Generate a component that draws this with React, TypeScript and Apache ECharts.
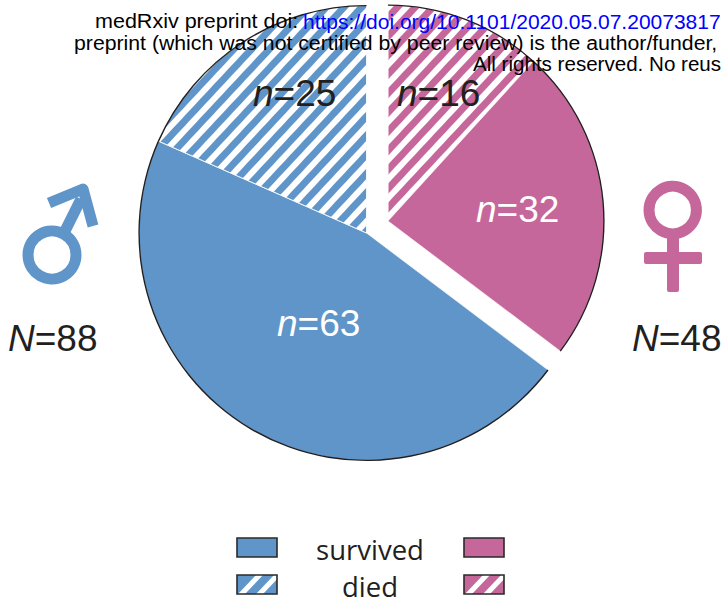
import React, { useEffect, useRef } from "react";
import * as echarts from "echarts";

const sliceNames = ["female died", "female survived", "male survived", "male died"];
const sliceValues = [16, 32, 63, 25];
const sliceSex = ["f", "f", "m", "m"];
const sliceHatched = [true, false, false, true];
const maleTotal = 88;
const femaleTotal = 48;
const legendLabels = ["survived", "died"];
const preprintLines = [
  "preprint (which was not certified by peer review) is the author/funder,",
  "All rights reserved. No reus",
];

const BLUE = "#5f95c9";
const PINK = "#c6679b";
const INK = "#231f20";
const LABEL_FONT = "'Liberation Sans', Arial, sans-serif";

const hatch = {
  symbol: "rect",
  symbolSize: 1,
  color: "#ffffff",
  dashArrayX: [1, 0],
  dashArrayY: [6, 7],
  rotation: (-47 * Math.PI) / 180,
};

function pieData(sex: string, ring: boolean) {
  return sliceValues.map((value, i) => {
    const own = sliceSex[i] === sex;
    const color = sex === "m" ? BLUE : PINK;
    return {
      name: sliceNames[i],
      value,
      itemStyle: !own
        ? { color: "transparent", borderWidth: 0 }
        : ring
        ? { color: INK, borderWidth: 0 }
        : {
            color,
            borderColor: "#ffffff",
            borderWidth: 0.6,
            ...(sliceHatched[i] ? { decal: hatch } : {}),
          },
    };
  });
}

function pieSeries(sex: string, center: number[], r: number) {
  const base = {
    type: "pie",
    center,
    startAngle: 90,
    clockwise: true,
    silent: true,
    label: { show: false },
    labelLine: { show: false },
    emphasis: { disabled: true },
  };
  return [
    { ...base, radius: [0, r], data: pieData(sex, false), z: 2 },
    { ...base, radius: [r - 0.8, r + 0.6], data: pieData(sex, true), z: 3 },
  ];
}

function valueLabel(letter: string, value: number, x: number, y: number, fill: string) {
  return {
    type: "text",
    z: 20,
    x,
    y,
    style: {
      text: `{i|${letter}}{t|=${value}}`,
      fill,
      align: "left",
      verticalAlign: "top",
      rich: {
        i: { font: `italic 37px ${LABEL_FONT}`, fill },
        t: { font: `37px ${LABEL_FONT}`, fill },
      },
    },
  };
}

function swatch(x: number, y: number, color: string, striped: boolean) {
  const w = 40;
  const h = 19;
  const parts: any[] = [
    { type: "rect", z: 20, shape: { x, y, width: w, height: h }, style: { fill: color } },
  ];
  if (striped) {
    [1, 19].forEach((off) => {
      parts.push({
        type: "polygon",
        z: 21,
        shape: {
          points: [
            [x + off, y + h],
            [x + off + 7, y + h],
            [x + off + 7 + h * 0.95, y],
            [x + off + h * 0.95, y],
          ],
        },
        style: { fill: "#ffffff" },
      });
    });
  }
  parts.push({
    type: "rect",
    z: 22,
    shape: { x, y, width: w, height: h },
    style: { fill: "none", stroke: "#2b2a2b", lineWidth: 1.6 },
  });
  return parts;
}

export default function App() {
  const ref = useRef<HTMLDivElement>(null);
  useEffect(() => {
    const chart = echarts.init(ref.current!, undefined, { renderer: "svg" });
    const banner = { font: `21px ${LABEL_FONT}`, verticalAlign: "top" };
    const legendFont = "27.5px 'Open Sans', sans-serif";
    chart.setOption({
      animation: false,
      backgroundColor: "#ffffff",
      series: [...pieSeries("m", [366.5, 233], 227.5), ...pieSeries("f", [388, 221], 216)],
      graphic: [
        valueLabel("n", sliceValues[3], 253, 75, INK),
        valueLabel("n", sliceValues[0], 397, 75, INK),
        valueLabel("n", sliceValues[1], 476, 191, "#ffffff"),
        valueLabel("n", sliceValues[2], 277, 305, "#ffffff"),
        valueLabel("N", maleTotal, 8, 320, INK),
        valueLabel("N", femaleTotal, 632, 320, INK),
        // male symbol
        { type: "circle", z: 20, shape: { cx: 52, cy: 255, r: 24 }, style: { fill: "none", stroke: BLUE, lineWidth: 11 } },
        { type: "line", z: 20, shape: { x1: 65, y1: 231, x2: 81, y2: 199 }, style: { stroke: BLUE, lineWidth: 11 } },
        {
          type: "polyline",
          z: 20,
          shape: { points: [[49, 203], [83, 189], [93, 226]] },
          style: { fill: "none", stroke: BLUE, lineWidth: 11, lineJoin: "round", lineCap: "butt" },
        },
        // female symbol
        { type: "circle", z: 20, shape: { cx: 672.7, cy: 210, r: 23.7 }, style: { fill: "none", stroke: PINK, lineWidth: 11 } },
        { type: "rect", z: 20, shape: { x: 667, y: 237, width: 12, height: 55, r: 2 }, style: { fill: PINK } },
        { type: "rect", z: 20, shape: { x: 644, y: 252, width: 58, height: 12, r: 2 }, style: { fill: PINK } },
        // legend
        ...swatch(237, 538, BLUE, false),
        ...swatch(237, 575, BLUE, true),
        ...swatch(464, 538, PINK, false),
        ...swatch(464, 575, PINK, true),
        {
          type: "text",
          z: 20,
          x: 370,
          y: 549,
          style: { text: legendLabels[0], font: legendFont, fill: INK, align: "center", verticalAlign: "middle" },
        },
        {
          type: "text",
          z: 20,
          x: 370,
          y: 586,
          style: { text: legendLabels[1], font: legendFont, fill: INK, align: "center", verticalAlign: "middle" },
        },
        // preprint banner
        { type: "text", z: 30, x: 95, y: 11, scaleX: 1.025, style: { ...banner, text: "medRxiv preprint doi: ", fill: "#000000" } },
        { type: "text", z: 30, x: 303, y: 11, style: { ...banner, text: "https://doi.org/10.1101/2020.05.07.20073817", fill: "#0000ff" } },
        { type: "text", z: 30, x: 74, y: 32, scaleX: 1.012, style: { ...banner, text: preprintLines[0], fill: "#000000" } },
        { type: "text", z: 30, x: 473, y: 53, scaleX: 0.98, style: { ...banner, text: preprintLines[1], fill: "#000000" } },
      ],
    });
    return () => chart.dispose();
  }, []);
  return (
    <div
      ref={ref}
      style={{ position: "absolute", left: 0, top: 0, width: 722, height: 601, background: "#fff" }}
    />
  );
}
